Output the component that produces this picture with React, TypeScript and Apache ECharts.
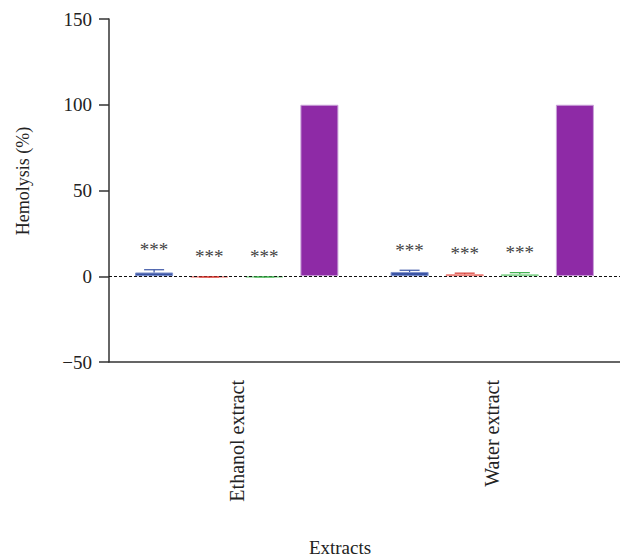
import React, { useEffect, useRef } from "react";
import * as echarts from "echarts";

const categories = ["Ethanol extract", "Water extract"];
const blueValues = [2.2, 2.5];
const redValues = [-0.8, 1.2];
const greenValues = [-0.8, 1.1];
const purpleValues = [100, 100];
const blueErrors = [1.6, 1.0];
const redErrors = [0.4, 0.6];
const greenErrors = [0.4, 1.0];
const purpleErrors = [0, 0];
const significance = ["***", "***", "***", ""];
const yTicks = { min: -50, max: 150, interval: 50 };

const FONT = "'Liberation Serif', 'DejaVu Serif', serif";
const BAR_W = 38;
const BAR_GAP = 0.45;

export default function App() {
  const ref = useRef<HTMLDivElement>(null);
  useEffect(() => {
    if (!ref.current) return;
    const chart = echarts.init(ref.current, undefined, { renderer: "svg" });
    const values = [blueValues, redValues, greenValues, purpleValues];
    const errors = [blueErrors, redErrors, greenErrors, purpleErrors];
    const colors = ["#3b55a6", "#d8322a", "#3bb04a", "#8e2aa6"];
    const borders = ["#7f92cc", "#ef8c86", "#8fd898", "#c9a2d8"];
    const errData: any[] = [];
    categories.forEach((_, ci) => {
      values.forEach((vals, bi) => {
        errData.push([ci, bi, vals[ci], errors[bi][ci]]);
      });
    });
    chart.setOption({
      animation: false,
      grid: { left: 109, right: 0, top: 19, bottom: 198, containLabel: false },
      xAxis: {
        type: "category",
        data: categories,
        axisLine: { onZero: false, lineStyle: { color: "#333", width: 1.5 } },
        axisTick: { alignWithLabel: true, length: 10, lineStyle: { color: "#333", width: 1.5 } },
        axisLabel: { rotate: 90, fontSize: 20, color: "#222", fontFamily: FONT, margin: 18 },
      },
      yAxis: {
        type: "value",
        min: yTicks.min,
        max: yTicks.max,
        interval: yTicks.interval,
        splitLine: { show: false },
        axisLine: { show: true, lineStyle: { color: "#333", width: 1.5 } },
        axisTick: { show: true, length: 10, lineStyle: { color: "#333", width: 1.5 } },
        axisLabel: {
          fontSize: 19,
          color: "#222",
          fontFamily: FONT,
          margin: 17,
          formatter: (v: number) => String(v).replace("-", "\u2212"),
        },
      },
      graphic: [
        {
          type: "text",
          x: 23,
          y: 181,
          rotation: Math.PI / 2,
          style: {
            text: "Hemolysis (%)",
            fontSize: 18,
            fontFamily: FONT,
            fill: "#222",
            textAlign: "center",
            textVerticalAlign: "middle",
          },
        },
        {
          type: "text",
          x: 340,
          y: 547,
          style: {
            text: "Extracts",
            fontSize: 19,
            fontFamily: FONT,
            fill: "#222",
            textAlign: "center",
            textVerticalAlign: "middle",
          },
        },
      ],
      series: [
        ...values.map((vals, bi) => ({
          type: "bar",
          name: "s" + bi,
          data: vals,
          barWidth: BAR_W,
          barGap: BAR_GAP * 100 + "%",
          itemStyle: { color: colors[bi], borderColor: borders[bi], borderWidth: 1 },
          markLine:
            bi === 0
              ? {
                  silent: true,
                  symbol: "none",
                  label: { show: false },
                  lineStyle: { color: "#111", type: [3, 2], width: 1.2 },
                  data: [{ yAxis: 0 }],
                }
              : undefined,
          z: 2,
        })),
        {
          type: "custom",
          data: errData,
          encode: { x: 0, y: 2 },
          clip: false,
          z: 5,
          renderItem: (params: any, api: any) => {
            const ci = api.value(0);
            const bi = api.value(1);
            const v = api.value(2);
            const e = api.value(3);
            const gap = BAR_W * BAR_GAP;
            const groupW = 4 * BAR_W + 3 * gap;
            const center = api.coord([ci, 0])[0];
            const x = center - groupW / 2 + bi * (BAR_W + gap) + BAR_W / 2;
            const yv = api.coord([ci, v])[1];
            const ytop = api.coord([ci, v + e])[1];
            const y0 = api.coord([ci, 0])[1];
            const children: any[] = [];
            const color = colors[bi];
            if (e > 0) {
              children.push({
                type: "line",
                shape: { x1: x, y1: yv, x2: x, y2: ytop },
                style: { stroke: color, lineWidth: 1.2 },
              });
              children.push({
                type: "line",
                shape: { x1: x - 10, y1: ytop, x2: x + 10, y2: ytop },
                style: { stroke: color, lineWidth: 1.2 },
              });
            }
            const label = significance[bi];
            if (label) {
              const yLab = Math.min(ytop, y0) - 20;
              children.push({
                type: "text",
                style: {
                  text: label,
                  x,
                  y: yLab,
                  textAlign: "center",
                  textVerticalAlign: "middle",
                  fontSize: 19,
                  fontFamily: FONT,
                  fill: "#444",
                },
              });
            }
            return { type: "group", children };
          },
        },
      ],
    });
    return () => chart.dispose();
  }, []);
  return (
    <div
      ref={ref}
      style={{ position: "fixed", left: 0, top: 0, width: 620, height: 560, background: "#fff" }}
    />
  );
}
